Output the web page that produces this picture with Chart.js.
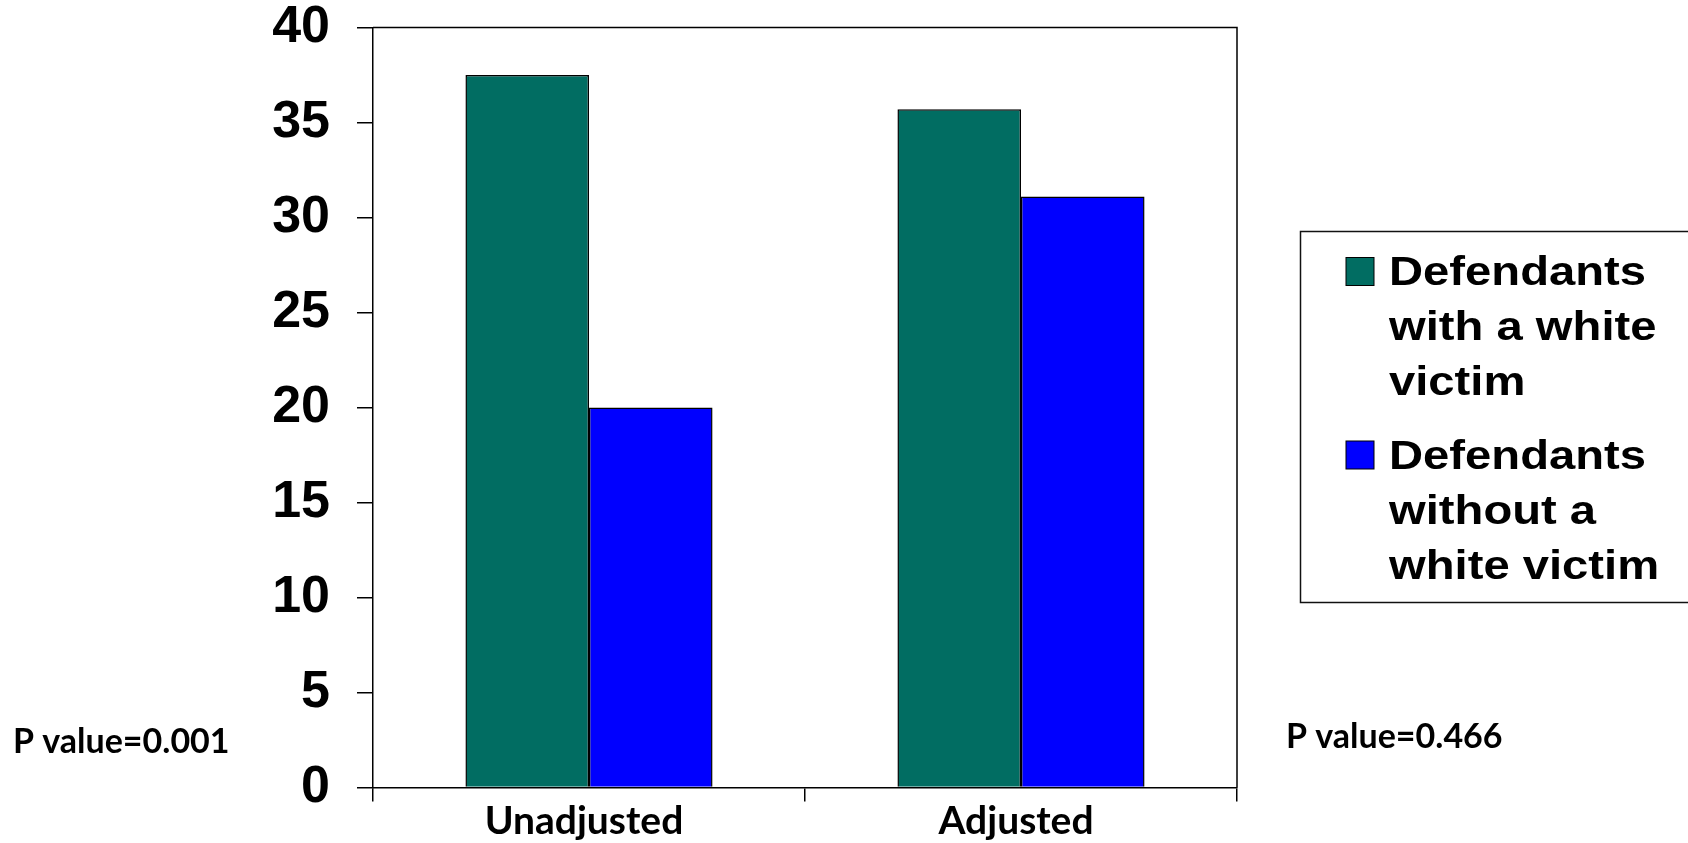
<!DOCTYPE html>
<html>
<head>
<meta charset="utf-8">
<script src="https://cdn.jsdelivr.net/npm/chart.js@4"></script>
<style>
  html, body { margin: 0; padding: 0; background: #ffffff; }
  #wrap { width: 1688px; height: 843px; position: relative; }
</style>
</head>
<body>
<div id="wrap"><canvas id="c" width="1688" height="843"></canvas></div>
<script>
// Categories and series values
const categories = ['Unadjusted', 'Adjusted'];
const seriesNames = ['Defendants with a white victim', 'Defendants without a white victim'];
const withWhiteVictim = [37.5, 35.7];
const withoutWhiteVictim = [20.0, 31.1];
const yTicks = [0, 5, 10, 15, 20, 25, 30, 35, 40];
const legendLines = [
  ['Defendants', 'with a white', 'victim'],
  ['Defendants', 'without a', 'white victim']
];
const pValues = ['P value=0.001', 'P value=0.466'];

const seriesColors = ['#016D62', '#0000FF'];

// Frame around the plot area (top and right edges)
const framePlugin = {
  id: 'frame',
  beforeDatasetsDraw(chart) {
    const { ctx, chartArea: a } = chart;
    ctx.save();
    ctx.strokeStyle = '#000';
    ctx.lineWidth = 1.5;
    ctx.beginPath();
    ctx.moveTo(a.left, a.top);
    ctx.lineTo(a.right, a.top);
    ctx.lineTo(a.right, a.bottom);
    ctx.stroke();
    ctx.restore();
  }
};

// Boxed legend with wrapped labels, plus p-value notes
const notesPlugin = {
  id: 'notes',
  afterDraw(chart) {
    const ctx = chart.ctx;
    ctx.save();
    // legend box
    ctx.strokeStyle = '#111';
    ctx.lineWidth = 1.5;
    ctx.strokeRect(1300.5, 231.5, 420, 371);
    ctx.font = 'bold 40px "Liberation Sans", Arial, sans-serif';
    ctx.fillStyle = '#000';
    ctx.textBaseline = 'alphabetic';
    const firstBaselines = [285, 468.5];
    legendLines.forEach((lines, i) => {
      const base = firstBaselines[i];
      ctx.fillStyle = seriesColors[i];
      ctx.fillRect(1346, base - 27.5, 28, 28);
      ctx.strokeStyle = '#000';
      ctx.lineWidth = 1;
      ctx.strokeRect(1346, base - 27.5, 28, 28);
      ctx.fillStyle = '#000';
      lines.forEach((t, j) => {
        ctx.save();
        ctx.translate(1389, base + j * 55);
        ctx.scale(1.18, 1);
        ctx.fillText(t, 0, 0);
        ctx.restore();
      });
    });
    // p-value notes
    ctx.font = 'bold 34px Lato, "Open Sans", sans-serif';
    ctx.fillText(pValues[0], 13, 752.5);
    ctx.fillText(pValues[1], 1286, 748);
    ctx.restore();
  }
};

new Chart(document.getElementById('c'), {
  type: 'bar',
  data: {
    labels: categories,
    datasets: [
      {
        label: seriesNames[0],
        data: withWhiteVictim,
        backgroundColor: seriesColors[0],
        borderColor: '#000',
        borderWidth: 1.5,
        categoryPercentage: 0.572,
        barPercentage: 1.0
      },
      {
        label: seriesNames[1],
        data: withoutWhiteVictim,
        backgroundColor: seriesColors[1],
        borderColor: '#000',
        borderWidth: 1.5,
        categoryPercentage: 0.572,
        barPercentage: 1.0
      }
    ]
  },
  options: {
    responsive: false,
    animation: false,
    layout: { padding: { left: 0, right: 451, top: 27.5, bottom: 0 } },
    plugins: {
      legend: { display: false },
      tooltip: { enabled: false }
    },
    scales: {
      x: {
        grid: {
          offset: true,
          drawOnChartArea: false,
          tickLength: 14,
          color: '#000',
          lineWidth: 1.5
        },
        border: { display: true, color: '#000', width: 1.5 },
        ticks: {
          color: '#000',
          padding: -3,
          labelOffset: -5,
          font: { family: 'Lato, "Open Sans", sans-serif', weight: 'bold', size: 39 }
        },
        afterFit(scale) {
          scale.height = 55.5;
          scale.paddingLeft = 0;
          scale.paddingRight = 0;
        }
      },
      y: {
        min: 0,
        max: 40,
        afterBuildTicks(scale) {
          scale.ticks = yTicks.map(v => ({ value: v }));
        },
        grid: {
          drawOnChartArea: false,
          tickLength: 16,
          color: '#000',
          lineWidth: 1.5
        },
        border: { display: true, color: '#000', width: 1.5 },
        ticks: {
          color: '#000',
          padding: 27,
          font: { family: '"Liberation Sans", Arial, sans-serif', weight: 'bold', size: 52 }
        },
        afterFit(scale) {
          scale.width = 373;
          scale.paddingTop = 0;
          scale.paddingBottom = 0;
        }
      }
    }
  },
  plugins: [framePlugin, notesPlugin]
});
</script>
</body>
</html>
